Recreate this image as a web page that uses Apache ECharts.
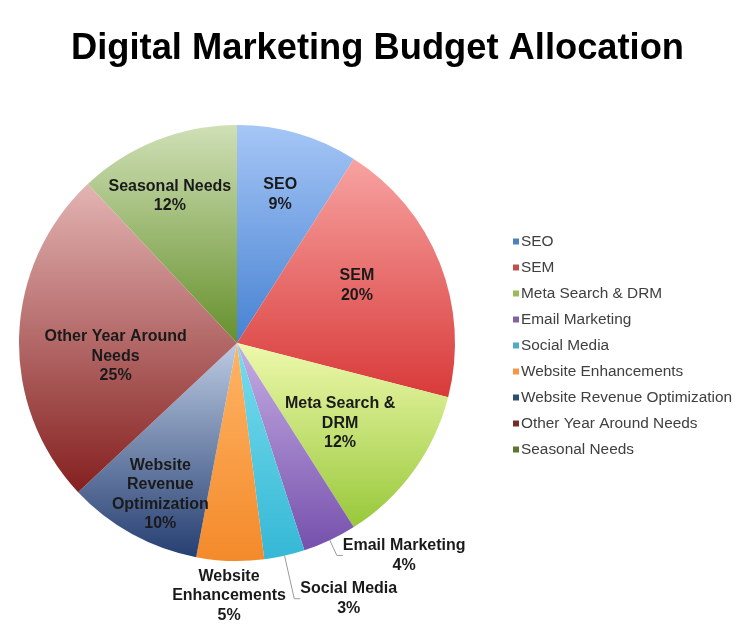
<!DOCTYPE html>
<html>
<head>
<meta charset="utf-8">
<script src="https://cdn.jsdelivr.net/npm/echarts@6/dist/echarts.min.js"></script>
<style>
  html, body { margin: 0; padding: 0; background: #ffffff; }
  #chart { width: 741px; height: 637px; }
</style>
</head>
<body>
<div id="chart"></div>
<script>
// ---- data ----
const categories = ['SEO', 'SEM', 'Meta Search & DRM', 'Email Marketing', 'Social Media',
  'Website Enhancements', 'Website Revenue Optimization', 'Other Year Around Needs', 'Seasonal Needs'];
const shares = [9, 20, 12, 4, 3, 5, 10, 25, 12];
const labelTexts = ['SEO', 'SEM', 'Meta Search &\nDRM', 'Email Marketing', 'Social Media',
  'Website\nEnhancements', 'Website\nRevenue\nOptimization', 'Other Year Around\nNeeds', 'Seasonal Needs'];

// ---- style ----
const topColors =    ['#a6c6f6', '#f7a3a1', '#eef9ac', '#c5aee4', '#79dcee', '#ffb466', '#bccbe2', '#e3b4b3', '#cfe0b6'];
const bottomColors = ['#4682d2', '#d83a39', '#98c83a', '#7650ac', '#35b8d6', '#f48a2a', '#263f72', '#84201f', '#66902c'];
const legendColors = ['#4f81bd', '#c0504d', '#9bbb59', '#8064a2', '#4bacc6', '#f79646', '#2c4d75', '#772c2a', '#5f7530'];
// label placement: [radius ratio, angle shift in degrees]
const labelPlace = [[0.71, 0], [0.61, -4], [0.6, 2], [1.24, -13], [1.28, -11], [1.16, 0], [0.78, -2], [0.56, -8], [0.74, -3]];
const outsideIdx = [3, 4, 5];

const cx = 237, cy = 343, R = 218;
const total = shares.reduce((a, b) => a + b, 0);
const midAngles = [];
let acc = 0;
shares.forEach(v => { midAngles.push((acc + v / 2) / total * 360); acc += v; });

const chart = echarts.init(document.getElementById('chart'), null, { renderer: 'canvas' });

const data = categories.map((name, i) => ({
  name: name,
  value: shares[i],
  itemStyle: {
    color: new echarts.graphic.LinearGradient(0, 0, 0, 1, [
      { offset: 0, color: topColors[i] },
      { offset: 1, color: bottomColors[i] }
    ])
  },
  label: { position: outsideIdx.includes(i) ? 'outside' : 'inside' },
  labelLine: { show: i === 3 || i === 4 }
}));

chart.setOption({
  animation: false,
  title: {
    text: 'Digital Marketing Budget Allocation',
    left: 66,
    top: 26,
    textStyle: { fontFamily: 'Liberation Sans, Arial, sans-serif', fontSize: 36.3, fontWeight: 'bold', color: '#000' }
  },
  legend: {
    orient: 'vertical',
    left: 508,
    top: 229,
    itemWidth: 6,
    itemHeight: 6,
    itemGap: 11,
    icon: 'rect',
    textStyle: { fontFamily: 'Liberation Sans, Arial, sans-serif', fontSize: 15.4, lineHeight: 14, color: '#404040', padding: [0, 0, 0, -3] },
    data: categories.map((n, i) => ({ name: n, itemStyle: { color: legendColors[i] } }))
  },
  series: [{
    type: 'pie',
    center: [cx, cy],
    radius: R,
    startAngle: 90,
    clockwise: true,
    data: data,
    label: {
      show: true,
      formatter: p => labelTexts[p.dataIndex] + '\n' + p.value + '%',
      fontFamily: 'Liberation Sans, Arial, sans-serif',
      fontSize: 16,
      fontWeight: 'bold',
      lineHeight: 19.5,
      color: '#1a1a1a',
      align: 'center'
    },
    labelLine: { show: true, length: 8, length2: 6, lineStyle: { color: '#9a9a9a', width: 1 } },
    labelLayout: function (p) {
      const i = p.dataIndex;
      const a = (midAngles[i] + labelPlace[i][1]) * Math.PI / 180;
      const r = R * labelPlace[i][0];
      return {
        x: cx + r * Math.sin(a),
        y: cy - r * Math.cos(a),
        align: 'center',
        verticalAlign: 'middle'
      };
    },
    emphasis: { disabled: true }
  }]
});
</script>
</body>
</html>
